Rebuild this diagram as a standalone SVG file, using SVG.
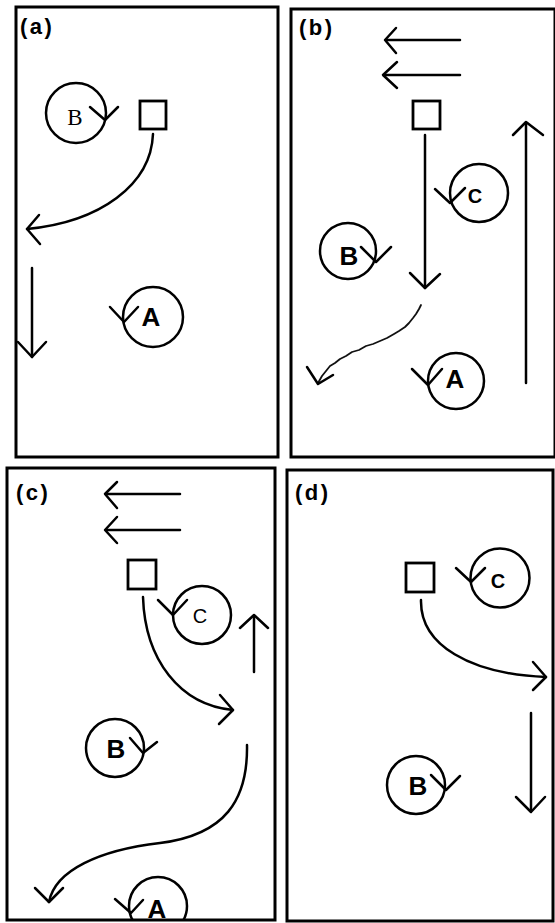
<svg xmlns="http://www.w3.org/2000/svg" width="555" height="923" viewBox="0 0 555 923">
<style>
.frame{fill:none;stroke:#000;stroke-width:3}
.ln{fill:none;stroke:#000;stroke-width:2.5;stroke-linecap:round;stroke-linejoin:round}
.thin{fill:none;stroke:#111;stroke-width:1.8;stroke-linecap:round;stroke-linejoin:round}
.box{fill:#fff;stroke:#000;stroke-width:2.8}
.circ{fill:none;stroke:#000;stroke-width:2.5}
.plbl{font-family:"Liberation Sans",Arial,sans-serif;font-weight:bold;font-size:22px;letter-spacing:2.5px}
.bl{font-family:"Liberation Sans",Arial,sans-serif;font-weight:bold;font-size:26px;text-anchor:middle}
.cl{font-family:"Liberation Sans",Arial,sans-serif;font-size:20px;text-anchor:middle}
.ml{font-family:"Liberation Serif","Times New Roman",serif;font-size:23px;text-anchor:middle}
</style>
<defs>
<clipPath id="clipC"><rect x="7" y="468" width="268" height="452"/></clipPath>
</defs>
<rect width="555" height="923" fill="#fff"/>

<g id="frames">
<rect class="frame" x="16" y="7" width="262" height="450"/>
<rect class="frame" x="291" y="9" width="264" height="448"/>
<rect class="frame" x="7" y="468" width="268" height="452"/>
<rect class="frame" x="287" y="470" width="266" height="451"/>
</g>

<g id="labels">
<text class="plbl" x="20" y="34">(a)</text>
<text class="plbl" x="299" y="35">(b)</text>
<text class="plbl" x="16" y="500">(c)</text>
<text class="plbl" x="295" y="500">(d)</text>
</g>

<!-- Panel a -->
<g id="a-B">
<circle class="circ" cx="76" cy="113" r="30"/>
<text class="ml" x="75" y="125">B</text>
<polyline class="ln" points="90,107 105,120 118,107"/>
</g>
<g id="a-square"><rect class="box" x="140" y="101" width="26" height="28"/></g>
<g id="a-A">
<circle class="circ" cx="153" cy="317" r="30"/>
<text class="bl" x="151" y="326">A</text>
<polyline class="ln" points="110,307 124,322 138,307"/>
</g>

<!-- Panel b -->
<g id="b-square"><rect class="box" x="413" y="101" width="27" height="28"/></g>
<g id="b-C">
<circle class="circ" cx="479" cy="193" r="29"/>
<text class="cl" x="475" y="203" font-weight="bold">C</text>
<polyline class="ln" points="435,189 450,203 465,188"/>
</g>
<g id="b-B">
<circle class="circ" cx="348" cy="251" r="28"/>
<text class="bl" x="349" y="265">B</text>
<polyline class="ln" points="361,247 376,262 391,247"/>
</g>
<g id="b-A">
<circle class="circ" cx="456" cy="381" r="28"/>
<text class="bl" x="455" y="388">A</text>
<polyline class="ln" points="412,369 428,385 442,369"/>
</g>

<!-- Panel c -->
<g id="c-square"><rect class="box" x="128" y="560" width="28" height="29"/></g>
<g id="c-C">
<circle class="circ" cx="202" cy="615" r="29"/>
<text class="cl" x="200" y="623">C</text>
<polyline class="ln" points="158,600 173,615 187,600"/>
</g>
<g id="c-B">
<circle class="circ" cx="115" cy="748" r="29"/>
<text class="bl" x="116" y="758">B</text>
<polyline class="ln" points="130,738 143,753 157,742"/>
</g>
<g id="c-A" clip-path="url(#clipC)">
<circle class="circ" cx="158" cy="906" r="29"/>
<text class="bl" x="157" y="918">A</text>
<polyline class="ln" points="115,899 131,913 143,900"/>
</g>

<!-- Panel d -->
<g id="d-square"><rect class="box" x="406" y="563" width="28" height="29"/></g>
<g id="d-C">
<circle class="circ" cx="500" cy="578" r="29.5"/>
<text class="cl" x="498" y="588" font-weight="bold">C</text>
<polyline class="ln" points="456,568 471,582 485,568"/>
</g>
<g id="d-B">
<circle class="circ" cx="416" cy="785" r="29"/>
<text class="bl" x="418" y="795">B</text>
<polyline class="ln" points="431,775 446,790 460,776"/>
</g>

<g id="connectors">
<!-- a -->
<path class="ln" d="M153,134 C151,185 100,222 27,229"/>
<polyline class="ln" points="39,215 27,229 40,244"/>
<line class="ln" x1="32" y1="268" x2="32" y2="357"/>
<polyline class="ln" points="18,342 32,357 46,342"/>
<!-- b -->
<line class="ln" x1="386" y1="40" x2="460" y2="40"/>
<polyline class="ln" points="396,28 385,40 396,53"/>
<line class="ln" x1="384" y1="75" x2="460" y2="75"/>
<polyline class="ln" points="397,62 383,75 397,88"/>
<line class="ln" x1="425" y1="135" x2="425" y2="288"/>
<polyline class="ln" points="410,273 425,288 440,274"/>
<polyline class="thin" points="421,305 419,309 416,314 413,318 409,323 405,327 399,331 394,334 387,338 380,341 373,344 366,346 359,350 352,352 346,356 340,359 335,363 330,366 326,371 322,376 318,383"/>
<polyline class="ln" points="307,367 318,384 333,375"/>
<line class="ln" x1="526" y1="383" x2="526" y2="123"/>
<polyline class="ln" points="513,135 526,122 543,135"/>
<!-- c -->
<line class="ln" x1="106" y1="494" x2="180" y2="494"/>
<polyline class="ln" points="117,482 105,494 117,508"/>
<line class="ln" x1="106" y1="530" x2="180" y2="530"/>
<polyline class="ln" points="117,517 105,530 117,543"/>
<path class="ln" d="M143,597 C145,660 180,705 233,710"/>
<polyline class="ln" points="220,695 233,710 219,724"/>
<line class="ln" x1="254" y1="672" x2="254" y2="616"/>
<polyline class="ln" points="240,628 254,615 268,628"/>
<path class="ln" d="M247,745 C248,800 225,835 160,843 C100,850 55,870 49,902"/>
<polyline class="ln" points="35,888 49,902 63,888"/>
<!-- d -->
<path class="ln" d="M421,600 C420,645 470,674 546,677"/>
<polyline class="ln" points="533,662 546,677 533,690"/>
<line class="ln" x1="531" y1="713" x2="531" y2="811"/>
<polyline class="ln" points="516,797 531,812 545,797"/>
</g>
</svg>
